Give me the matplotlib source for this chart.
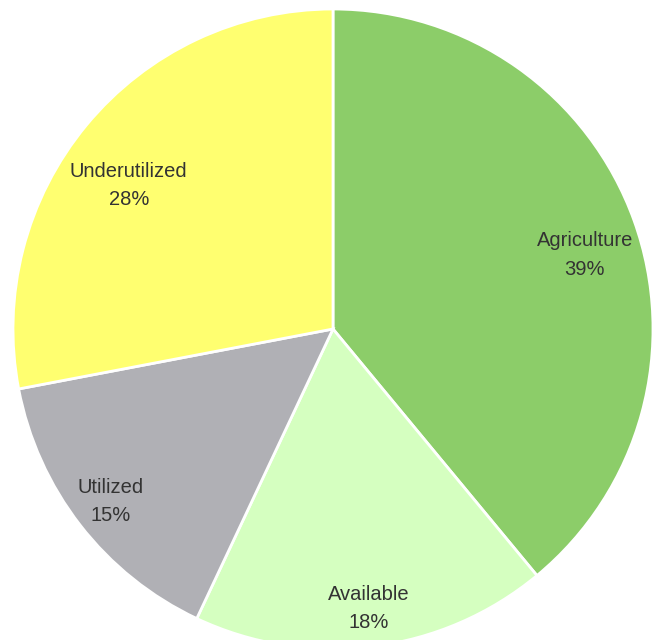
import numpy as np
import matplotlib.pyplot as plt

labels = ['Agriculture', 'Available', 'Utilized', 'Underutilized']
shares = [39, 18, 15, 28]
colors = ['#8ccd69', '#d5ffc0', '#b0b0b5', '#ffff70']

# label placement per wedge: radial distance and small angle nudge (degrees)
label_r = [0.82, 0.88, 0.88, 0.78]
label_nudge = [-3.5, 0, 0, 4.5]

fig = plt.figure(figsize=(6.58, 6.40), dpi=100)
ax = fig.add_axes([0, 0, 1, 1])

wedges, _ = ax.pie(shares, colors=colors, startangle=90, counterclock=False,
                   radius=1.0, wedgeprops=dict(edgecolor='white', linewidth=2))

for w, name, val, r, dth in zip(wedges, labels, shares, label_r, label_nudge):
    mid = np.deg2rad((w.theta1 + w.theta2) / 2 + dth)
    ax.text(r * np.cos(mid), r * np.sin(mid), f'{name}\n{val}%',
            ha='center', va='center', fontsize=14.5, family='Liberation Sans',
            color='#333333', linespacing=1.65)

# pie centre sits at (333, 329) px with a 320 px radius
ax.set_aspect('auto')
ax.set_xlim(-333 / 320, (658 - 333) / 320)
ax.set_ylim(-(640 - 329) / 320, 329 / 320)
ax.axis('off')

fig.savefig('out.png', dpi=100)
